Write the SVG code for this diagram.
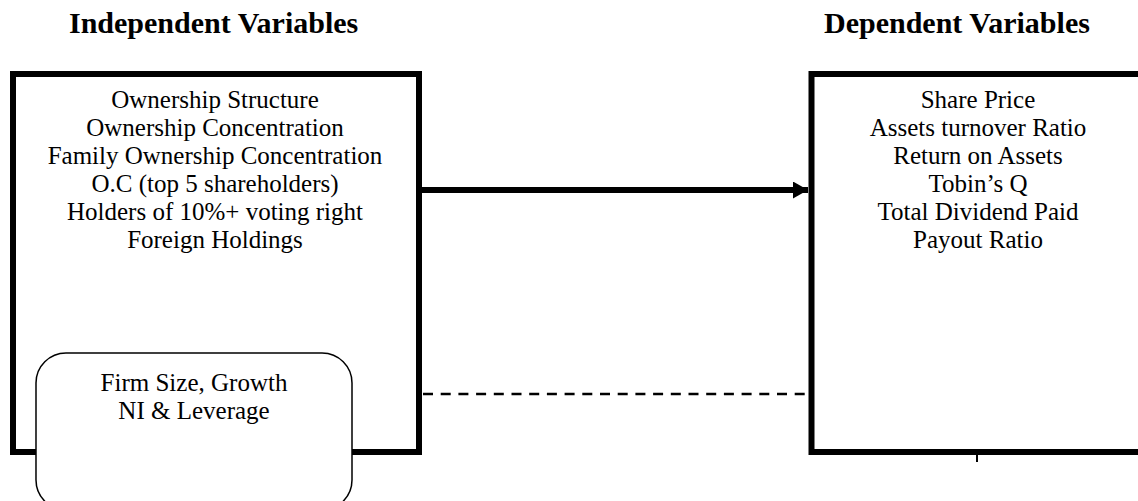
<svg xmlns="http://www.w3.org/2000/svg" width="1138" height="501" viewBox="0 0 1138 501">
<style>
.hd{font-family:"Liberation Serif","Times New Roman",serif;font-weight:bold;font-size:30px;fill:#000}
.tx{font-family:"Liberation Serif","Times New Roman",serif;font-size:25px;fill:#000;text-anchor:middle}
.box{fill:#fff;stroke:#000;stroke-width:6}
.rr{fill:#fff;stroke:#000;stroke-width:1.5}
</style>
<defs>
<marker id="ah" markerUnits="userSpaceOnUse" markerWidth="16" markerHeight="17" refX="15" refY="8.5" orient="auto">
<path d="M0,0 L15,8.5 L0,17 Z" fill="#000"/>
</marker>
</defs>
<text class="hd" x="69" y="33">Independent Variables</text>
<text class="hd" x="824" y="33">Dependent Variables</text>
<g id="independent">
<rect class="box" x="13" y="74" width="406" height="378"/>
<text class="tx" x="215" y="108">Ownership Structure</text>
<text class="tx" x="215" y="136">Ownership Concentration</text>
<text class="tx" x="215" y="164">Family Ownership Concentration</text>
<text class="tx" x="215" y="192">O.C (top 5 shareholders)</text>
<text class="tx" x="215" y="220">Holders of 10%+ voting right</text>
<text class="tx" x="215" y="248">Foreign Holdings</text>
</g>
<g id="dependent">
<rect class="box" x="811.5" y="74" width="400" height="378"/>
<text class="tx" x="978" y="108">Share Price</text>
<text class="tx" x="978" y="136">Assets turnover Ratio</text>
<text class="tx" x="978" y="164">Return on Assets</text>
<text class="tx" x="978" y="192">Tobin’s Q</text>
<text class="tx" x="978" y="220">Total Dividend Paid</text>
<text class="tx" x="978" y="248">Payout Ratio</text>
<line x1="977" y1="455" x2="977" y2="462" stroke="#000" stroke-width="2"/>
</g>
<g id="controls">
<rect class="rr" x="36" y="353" width="316" height="157" rx="30" ry="30"/>
<text class="tx" x="194" y="391">Firm Size, Growth</text>
<text class="tx" x="194" y="419">NI &amp; Leverage</text>
</g>
<g id="connectors">
<line x1="422" y1="190" x2="808" y2="190" stroke="#000" stroke-width="6" marker-end="url(#ah)"/>
<line x1="423" y1="394" x2="808" y2="394" stroke="#000" stroke-width="2.5" stroke-dasharray="10 7.7"/>
</g>
</svg>
